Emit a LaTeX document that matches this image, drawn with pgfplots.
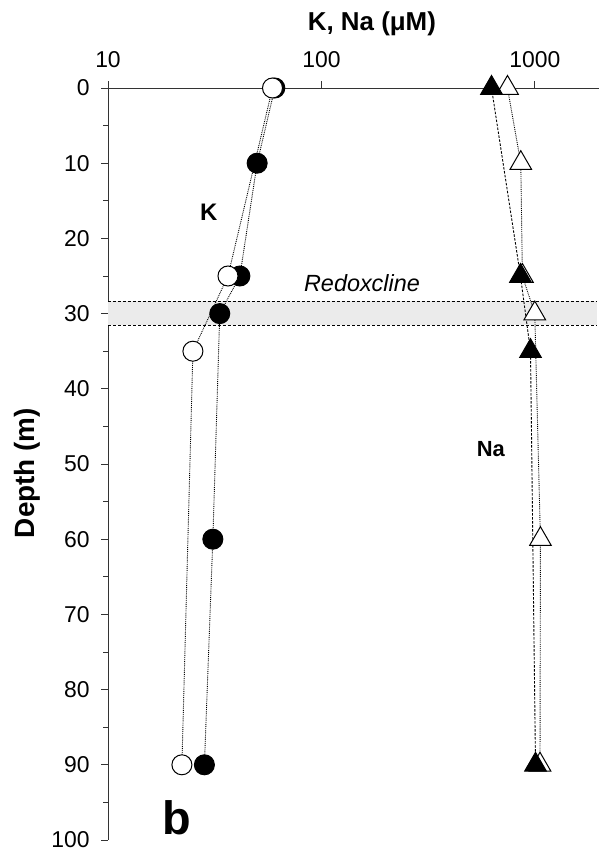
\documentclass[border=0pt]{standalone}
\usepackage{pgfplots}
\pgfplotsset{compat=1.18}
\usepackage{fontspec}
\setmainfont{Liberation Sans}
\begin{document}
\begin{tikzpicture}
\begin{axis}[
  scale only axis,
  width=491bp, height=752bp,
  xmode=log, log basis x=10,
  xmin=10, xmax=2000,
  ymin=0, ymax=100,
  y dir=reverse,
  axis x line*=top,
  axis y line*=left,
  axis line style={line width=0.8bp, black!80},
  tick style={line width=0.8bp, black!80},
  tick align=outside,
  major tick length=7bp,
  minor tick length=5bp,
  xtick={10,100,1000},
  xticklabels={10,100,1000},
  xminorticks=false,
  ytick={0,10,...,100},
  minor y tick num=1,
  /pgf/number format/assume math mode=true,
  ticklabel style={font=\fontsize{23}{23}\selectfont},
  xticklabel style={yshift=10bp},
  yticklabel style={xshift=-8bp},
  clip=false,
]
% redoxcline band
\fill[black!8] (axis cs:10,28.3) rectangle (axis cs:1950,31.5);
\draw[densely dashed, line width=0.6bp] (axis cs:10,28.3) -- (axis cs:1950,28.3);
\draw[densely dashed, line width=0.6bp] (axis cs:10,31.5) -- (axis cs:1950,31.5);

% K filled
\addplot[densely dotted, line width=0.9bp, mark=*, mark size=10bp,
  mark options={solid, fill=black, draw=black, line width=1bp}]
  coordinates {(60.5,0) (50,10) (41.5,25) (33.4,30) (31,60) (28.3,90)};
% K open
\addplot[densely dotted, line width=0.9bp, mark=*, mark size=10bp,
  mark options={solid, fill=white, draw=black, line width=1bp}]
  coordinates {(59,0) (36.5,25) (25,35) (22.2,90)};
% Na open
\addplot[densely dotted, line width=0.9bp, mark=triangle*, mark size=12.5bp,
  mark options={solid, fill=white, draw=black, line width=1bp}]
  coordinates {(745,0) (860,10) (875,25) (1000,30) (1063,60) (1058,90)};
% Na filled
\addplot[dash pattern=on 2.5bp off 1.5bp, line width=0.9bp, mark=triangle*, mark size=12.5bp,
  mark options={solid, fill=black, draw=black, line width=1bp}]
  coordinates {(627,0) (857,25) (955,35) (1008,90)};

\node[font=\bfseries\fontsize{24}{24}\selectfont] at (axis cs:29.7,16.5) {K};
\node[font=\bfseries\fontsize{22}{22}\selectfont] at (axis cs:623,48) {Na};
\node[font=\itshape\fontsize{23.5}{23.5}\selectfont] at (axis cs:155,25.9) {Redoxcline};
\node[font=\bfseries\fontsize{47}{47}\selectfont] at (axis cs:21,97) {b};
\node[font=\bfseries\fontsize{26}{26}\selectfont] at (axis cs:172.5,-8.5) {K, Na (μM)};
\node[font=\bfseries\fontsize{28}{28}\selectfont, rotate=90] at (axis cs:4.2,51.2) {Depth (m)};
\coordinate (tl) at (axis cs:10,0);
\end{axis}
\path (tl) ++(-108bp,88bp) rectangle ++(609bp,-855bp);
\end{tikzpicture}
\end{document}
